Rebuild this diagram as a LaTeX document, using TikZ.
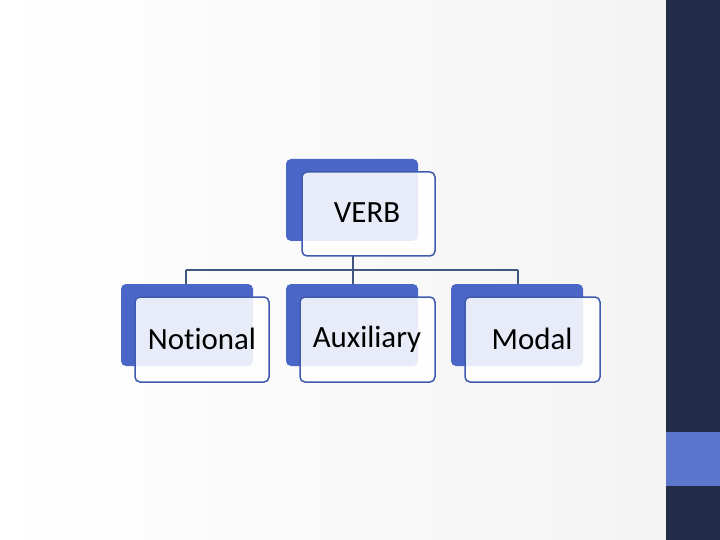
\documentclass[tikz,border=0pt]{standalone}
\usepackage{fontspec}
\setmainfont[Ligatures={NoCommon}]{Carlito}
\begin{document}
\begin{tikzpicture}[x=1bp,y=-1bp,
  backbox/.style={fill=blueA,rounded corners=5bp},
  frontbox/.style={draw=blueB,line width=1.5bp,fill=white,fill opacity=0.88,rounded corners=5bp},
  lbl/.style={font=\fontsize{31}{36}\selectfont,text=black},
  conn/.style={draw=lineC,line width=1.3bp}]
\definecolor{blueA}{HTML}{4A67C8}
\definecolor{blueB}{HTML}{3F5AAE}
\definecolor{lineC}{HTML}{42557E}
\definecolor{navy}{HTML}{222B48}
\useasboundingbox (0,0) rectangle (720,540);
\shade[left color=white,right color=gray!9] (0,0) rectangle (666,540);
\fill[navy] (666,0) rectangle (720,540);
\fill[blueA!90!white] (666,432) rectangle (720,486);
\coordinate (j) at (353,270);
\coordinate (jl) at (186,270);
\coordinate (jr) at (518,270);
\fill[backbox] (286,159) rectangle (418,241);
\fill[backbox] (121,284) rectangle (253,366);
\fill[backbox] (286,284) rectangle (418,366);
\fill[backbox] (451,284) rectangle (583,366);
\node[coordinate] (vb) at (353,256) {};
\draw[conn] (vb) -- (j);
\draw[conn] (jl) -- (jr);
\node[coordinate] (n1) at (186,284) {};
\node[coordinate] (n2) at (353,284) {};
\node[coordinate] (n3) at (518,284) {};
\draw[conn] (jl) -- (n1);
\draw[conn] (j) -- (n2);
\draw[conn] (jr) -- (n3);
\path[frontbox] (302,172) rectangle (435,256);
\path[frontbox] (135,297) rectangle (269,382);
\path[frontbox] (300,297) rectangle (435,382);
\path[frontbox] (465,297) rectangle (600,382);
\node[lbl] (verb) at (367,213) {VERB};
\node[lbl] (not) at (202,339) {Notional};
\node[lbl] (aux) at (367,339) {Auxiliary};
\node[lbl] (mod) at (532,339) {Modal};
\end{tikzpicture}
\end{document}
